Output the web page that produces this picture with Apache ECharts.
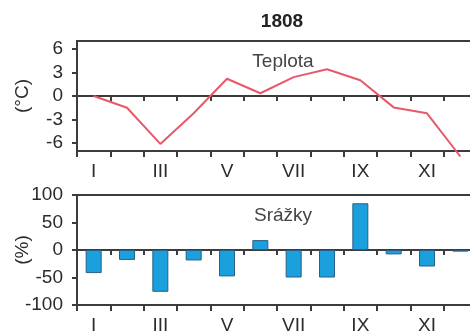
<!DOCTYPE html>
<html>
<head>
<meta charset="utf-8">
<script src="https://cdn.jsdelivr.net/npm/echarts@6/dist/echarts.min.js"></script>
<style>
  html, body { margin: 0; padding: 0; background: #fff; }
  #chart { width: 470px; height: 336px; }
</style>
</head>
<body>
<div id="chart"></div>
<script>
// Monthly anomalies for the year 1808
const months = ['I', 'II', 'III', 'IV', 'V', 'VI', 'VII', 'VIII', 'IX', 'X', 'XI', 'XII'];
// temperature deviation (°C)
const teplota = [0, -1.5, -6.1, -2.2, 2.2, 0.35, 2.4, 3.4, 2.0, -1.45, -2.2, -7.7];
// precipitation deviation (%)
const srazky = [-42, -18, -76, -19, -48, 18, -50, -50, 85, -8, -30, -3];
// tick labels of the value axes
const tempTicks = [-6, -3, 0, 3, 6];
const precTicks = [-100, -50, 0, 50, 100];

const FONT = 'Liberation Sans, Arial, sans-serif';
const AX = '#3c3c3c';
const TXT = '#2b2b2b';

const chart = echarts.init(document.getElementById('chart'));

// axis drawn through zero, ticks only
function zeroAxis(gridIndex) {
  return {
    type: 'category', gridIndex, data: months, position: 'bottom', boundaryGap: true,
    axisLine: { onZero: true, lineStyle: { color: AX, width: 2 } },
    axisTick: { show: true, interval: 0, length: 5, lineStyle: { color: AX, width: 2 } },
    axisLabel: { show: false }
  };
}
// axis along the bottom edge, with the month labels
function frameAxis(gridIndex) {
  return {
    type: 'category', gridIndex, data: months, position: 'bottom', boundaryGap: true,
    axisLine: { onZero: false, lineStyle: { color: AX, width: 2 } },
    axisTick: { show: true, interval: 0, length: 6, lineStyle: { color: AX, width: 2 } },
    axisLabel: { interval: 1, margin: 11, color: TXT, fontSize: 19, fontFamily: FONT }
  };
}
function valueAxis(gridIndex, min, max, ticks, name) {
  return {
    type: 'value', gridIndex, min, max,
    name, nameLocation: 'middle', nameGap: 45, nameMoveOverlap: false,
    nameTextStyle: { color: TXT, fontSize: 19, fontFamily: FONT },
    splitLine: { show: false },
    axisLine: { show: true, onZero: false, lineStyle: { color: AX, width: 2 } },
    axisTick: { show: true, length: 5, customValues: ticks, lineStyle: { color: AX, width: 2 } },
    axisLabel: { customValues: ticks, margin: 14, color: TXT, fontSize: 19, fontFamily: FONT }
  };
}

// plot boxes run a little past the right edge of the canvas; keep them fixed
const gridBase = {
  left: 77, width: 400, height: 110,
  containLabel: false, outerBoundsMode: 'none',
  show: true, borderColor: AX, borderWidth: 2
};

chart.setOption({
  animation: false,
  title: [
    { text: '1808', left: 277, top: 7, textAlign: 'center',
      textStyle: { fontSize: 19, fontWeight: 'bold', color: '#222', fontFamily: FONT } },
    { text: 'Teplota', left: 278, top: 47, textAlign: 'center',
      textStyle: { fontSize: 19, fontWeight: 'normal', color: '#444', fontFamily: FONT } },
    { text: 'Srážky', left: 278, top: 201, textAlign: 'center',
      textStyle: { fontSize: 19, fontWeight: 'normal', color: '#444', fontFamily: FONT } }
  ],
  grid: [
    Object.assign({}, gridBase, { top: 41 }),
    Object.assign({}, gridBase, { top: 195 })
  ],
  xAxis: [zeroAxis(0), frameAxis(0), zeroAxis(1), frameAxis(1)],
  yAxis: [
    valueAxis(0, -7, 7, tempTicks, '(°C)'),
    valueAxis(1, -100, 100, precTicks, '(%)')
  ],
  series: [
    {
      type: 'line', xAxisIndex: 0, yAxisIndex: 0, data: teplota,
      symbol: 'none', clip: false,
      lineStyle: { color: '#e8586a', width: 2 }
    },
    {
      type: 'bar', xAxisIndex: 2, yAxisIndex: 1, data: srazky, barWidth: 16,
      itemStyle: { color: '#19a0dd', borderColor: '#2a5f86', borderWidth: 1 }
    }
  ]
});
</script>
</body>
</html>
